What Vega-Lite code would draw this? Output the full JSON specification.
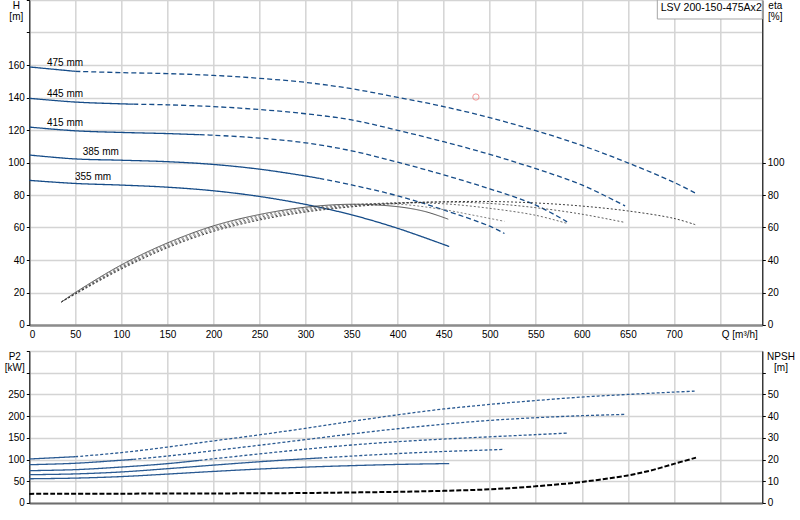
{
  "$schema": "https://vega.github.io/schema/vega-lite/v6.json",
  "autosize": {"type": "none"},
  "padding": {"left": 29.3, "top": 0, "right": 771, "bottom": 520},
  "background": "white",
  "config": {
    "font": "Liberation Sans",
    "view": {"stroke": "#9a9a9a", "strokeWidth": 1},
    "axis": {
      "labelFont": "Liberation Sans", "labelFontSize": 10, "labelColor": "#000",
      "titleFont": "Liberation Sans", "titleFontSize": 10, "titleFontWeight": "normal", "titleColor": "#000",
      "gridColor": "#d4d4d4", "gridWidth": 1.5, "tickColor": "#000", "tickSize": 3,
      "domainColor": "#000", "labelPadding": 2, "titleLineHeight": 11
    }
  },
  "datasets": {
    "head": [
      {"d": "475 mm", "r": "in", "q": 0, "h": 158.8}, {"d": "475 mm", "r": "in", "q": 50, "h": 156.1},
      {"d": "475 mm", "r": "out", "q": 50, "h": 156.1}, {"d": "475 mm", "r": "out", "q": 100, "h": 155.3},
      {"d": "475 mm", "r": "out", "q": 150, "h": 154.7}, {"d": "475 mm", "r": "out", "q": 200, "h": 153.6},
      {"d": "475 mm", "r": "out", "q": 250, "h": 151.8}, {"d": "475 mm", "r": "out", "q": 300, "h": 149.3},
      {"d": "475 mm", "r": "out", "q": 350, "h": 145.4}, {"d": "475 mm", "r": "out", "q": 400, "h": 140.1},
      {"d": "475 mm", "r": "out", "q": 450, "h": 134.4}, {"d": "475 mm", "r": "out", "q": 500, "h": 127.6},
      {"d": "475 mm", "r": "out", "q": 550, "h": 119.6}, {"d": "475 mm", "r": "out", "q": 600, "h": 110.5},
      {"d": "475 mm", "r": "out", "q": 650, "h": 99.8}, {"d": "475 mm", "r": "out", "q": 700, "h": 87.8},
      {"d": "475 mm", "r": "out", "q": 724, "h": 81},
      {"d": "445 mm", "r": "in", "q": 0, "h": 139.5}, {"d": "445 mm", "r": "in", "q": 50, "h": 137.2},
      {"d": "445 mm", "r": "in", "q": 100, "h": 136.1}, {"d": "445 mm", "r": "in", "q": 113, "h": 135.9},
      {"d": "445 mm", "r": "out", "q": 113, "h": 135.9}, {"d": "445 mm", "r": "out", "q": 150, "h": 135.5},
      {"d": "445 mm", "r": "out", "q": 200, "h": 134.4}, {"d": "445 mm", "r": "out", "q": 250, "h": 132.6},
      {"d": "445 mm", "r": "out", "q": 300, "h": 130}, {"d": "445 mm", "r": "out", "q": 350, "h": 126.2},
      {"d": "445 mm", "r": "out", "q": 400, "h": 119.8}, {"d": "445 mm", "r": "out", "q": 450, "h": 112.8},
      {"d": "445 mm", "r": "out", "q": 500, "h": 105}, {"d": "445 mm", "r": "out", "q": 550, "h": 96.2},
      {"d": "445 mm", "r": "out", "q": 600, "h": 86.2}, {"d": "445 mm", "r": "out", "q": 647, "h": 73.3},
      {"d": "415 mm", "r": "in", "q": 0, "h": 121.8}, {"d": "415 mm", "r": "in", "q": 50, "h": 119.5},
      {"d": "415 mm", "r": "in", "q": 100, "h": 118.5}, {"d": "415 mm", "r": "in", "q": 150, "h": 117.8},
      {"d": "415 mm", "r": "in", "q": 185, "h": 117.1},
      {"d": "415 mm", "r": "out", "q": 185, "h": 117.1}, {"d": "415 mm", "r": "out", "q": 200, "h": 116.8},
      {"d": "415 mm", "r": "out", "q": 250, "h": 115}, {"d": "415 mm", "r": "out", "q": 300, "h": 112.1},
      {"d": "415 mm", "r": "out", "q": 350, "h": 107.2}, {"d": "415 mm", "r": "out", "q": 400, "h": 100.2},
      {"d": "415 mm", "r": "out", "q": 450, "h": 92.4}, {"d": "415 mm", "r": "out", "q": 500, "h": 83.8},
      {"d": "415 mm", "r": "out", "q": 550, "h": 73.8}, {"d": "415 mm", "r": "out", "q": 584, "h": 63.5},
      {"d": "385 mm", "r": "in", "q": 0, "h": 104.6}, {"d": "385 mm", "r": "in", "q": 50, "h": 102.2},
      {"d": "385 mm", "r": "in", "q": 100, "h": 101.4}, {"d": "385 mm", "r": "in", "q": 150, "h": 100.5},
      {"d": "385 mm", "r": "in", "q": 200, "h": 98.8}, {"d": "385 mm", "r": "in", "q": 250, "h": 95.9},
      {"d": "385 mm", "r": "in", "q": 300, "h": 91.7}, {"d": "385 mm", "r": "in", "q": 315, "h": 90.2},
      {"d": "385 mm", "r": "out", "q": 315, "h": 90.2}, {"d": "385 mm", "r": "out", "q": 350, "h": 86.2},
      {"d": "385 mm", "r": "out", "q": 400, "h": 79.5}, {"d": "385 mm", "r": "out", "q": 450, "h": 70.8},
      {"d": "385 mm", "r": "out", "q": 500, "h": 60.8}, {"d": "385 mm", "r": "out", "q": 516, "h": 56.3},
      {"d": "355 mm", "r": "in", "q": 0, "h": 89}, {"d": "355 mm", "r": "in", "q": 50, "h": 87.1},
      {"d": "355 mm", "r": "in", "q": 100, "h": 86.1}, {"d": "355 mm", "r": "in", "q": 150, "h": 84.8},
      {"d": "355 mm", "r": "in", "q": 200, "h": 82.6}, {"d": "355 mm", "r": "in", "q": 250, "h": 79.1},
      {"d": "355 mm", "r": "in", "q": 300, "h": 74.2}, {"d": "355 mm", "r": "in", "q": 350, "h": 67.8},
      {"d": "355 mm", "r": "in", "q": 400, "h": 59.5}, {"d": "355 mm", "r": "in", "q": 456, "h": 48.3}
    ],
    "eta": [
      {"d": "355 mm", "q": 35, "e": 14.2}, {"d": "355 mm", "q": 50, "e": 20}, {"d": "355 mm", "q": 100, "e": 37},
      {"d": "355 mm", "q": 150, "e": 50.5}, {"d": "355 mm", "q": 200, "e": 61}, {"d": "355 mm", "q": 250, "e": 68},
      {"d": "355 mm", "q": 300, "e": 72.5}, {"d": "355 mm", "q": 350, "e": 74.3}, {"d": "355 mm", "q": 400, "e": 72.8},
      {"d": "355 mm", "q": 430, "e": 69.8}, {"d": "355 mm", "q": 455, "e": 65.1},
      {"d": "385 mm", "q": 35, "e": 14.2}, {"d": "385 mm", "q": 50, "e": 19.8}, {"d": "385 mm", "q": 100, "e": 36.3},
      {"d": "385 mm", "q": 150, "e": 49.8}, {"d": "385 mm", "q": 200, "e": 60.2}, {"d": "385 mm", "q": 250, "e": 67.2},
      {"d": "385 mm", "q": 300, "e": 71.8}, {"d": "385 mm", "q": 350, "e": 74.2}, {"d": "385 mm", "q": 400, "e": 74.4},
      {"d": "385 mm", "q": 450, "e": 71}, {"d": "385 mm", "q": 480, "e": 67.8}, {"d": "385 mm", "q": 516, "e": 63.8},
      {"d": "415 mm", "q": 35, "e": 14.2}, {"d": "415 mm", "q": 50, "e": 19.5}, {"d": "415 mm", "q": 100, "e": 35.6},
      {"d": "415 mm", "q": 150, "e": 49}, {"d": "415 mm", "q": 200, "e": 59.3}, {"d": "415 mm", "q": 250, "e": 66.3},
      {"d": "415 mm", "q": 300, "e": 71}, {"d": "415 mm", "q": 350, "e": 73.8}, {"d": "415 mm", "q": 400, "e": 75.2},
      {"d": "415 mm", "q": 450, "e": 74.6}, {"d": "415 mm", "q": 500, "e": 71.8}, {"d": "415 mm", "q": 550, "e": 67.5},
      {"d": "415 mm", "q": 584, "e": 62.5},
      {"d": "445 mm", "q": 35, "e": 14.2}, {"d": "445 mm", "q": 50, "e": 19.3}, {"d": "445 mm", "q": 100, "e": 35},
      {"d": "445 mm", "q": 150, "e": 48.2}, {"d": "445 mm", "q": 200, "e": 58.4}, {"d": "445 mm", "q": 250, "e": 65.4},
      {"d": "445 mm", "q": 300, "e": 70.2}, {"d": "445 mm", "q": 350, "e": 73.2}, {"d": "445 mm", "q": 400, "e": 75.1},
      {"d": "445 mm", "q": 450, "e": 75.7}, {"d": "445 mm", "q": 500, "e": 74.8}, {"d": "445 mm", "q": 550, "e": 72.2},
      {"d": "445 mm", "q": 600, "e": 68.2}, {"d": "445 mm", "q": 647, "e": 63.1},
      {"d": "475 mm", "q": 35, "e": 14.2}, {"d": "475 mm", "q": 50, "e": 19}, {"d": "475 mm", "q": 100, "e": 34.4},
      {"d": "475 mm", "q": 150, "e": 47.5}, {"d": "475 mm", "q": 200, "e": 57.6}, {"d": "475 mm", "q": 250, "e": 64.6},
      {"d": "475 mm", "q": 300, "e": 69.5}, {"d": "475 mm", "q": 350, "e": 72.7}, {"d": "475 mm", "q": 400, "e": 74.8},
      {"d": "475 mm", "q": 450, "e": 75.8}, {"d": "475 mm", "q": 500, "e": 76}, {"d": "475 mm", "q": 550, "e": 75.1},
      {"d": "475 mm", "q": 600, "e": 73.2}, {"d": "475 mm", "q": 650, "e": 70.2}, {"d": "475 mm", "q": 700, "e": 65.6},
      {"d": "475 mm", "q": 724, "e": 61.6}
    ],
    "power": [
      {"d": "475 mm", "r": "in", "q": 0, "p": 101.3}, {"d": "475 mm", "r": "in", "q": 50, "p": 106.6},
      {"d": "475 mm", "r": "out", "q": 50, "p": 106.6}, {"d": "475 mm", "r": "out", "q": 100, "p": 116},
      {"d": "475 mm", "r": "out", "q": 150, "p": 128.8}, {"d": "475 mm", "r": "out", "q": 200, "p": 143},
      {"d": "475 mm", "r": "out", "q": 250, "p": 157}, {"d": "475 mm", "r": "out", "q": 300, "p": 172},
      {"d": "475 mm", "r": "out", "q": 350, "p": 188}, {"d": "475 mm", "r": "out", "q": 400, "p": 203},
      {"d": "475 mm", "r": "out", "q": 450, "p": 216.5}, {"d": "475 mm", "r": "out", "q": 500, "p": 227},
      {"d": "475 mm", "r": "out", "q": 550, "p": 236}, {"d": "475 mm", "r": "out", "q": 600, "p": 244},
      {"d": "475 mm", "r": "out", "q": 650, "p": 250}, {"d": "475 mm", "r": "out", "q": 700, "p": 255.4},
      {"d": "475 mm", "r": "out", "q": 724, "p": 257.7},
      {"d": "445 mm", "r": "in", "q": 0, "p": 88.2}, {"d": "445 mm", "r": "in", "q": 50, "p": 91.5},
      {"d": "445 mm", "r": "in", "q": 100, "p": 98.5}, {"d": "445 mm", "r": "in", "q": 113, "p": 100.5},
      {"d": "445 mm", "r": "out", "q": 113, "p": 100.5}, {"d": "445 mm", "r": "out", "q": 150, "p": 108},
      {"d": "445 mm", "r": "out", "q": 200, "p": 120.5}, {"d": "445 mm", "r": "out", "q": 250, "p": 133},
      {"d": "445 mm", "r": "out", "q": 300, "p": 146}, {"d": "445 mm", "r": "out", "q": 350, "p": 159},
      {"d": "445 mm", "r": "out", "q": 400, "p": 171}, {"d": "445 mm", "r": "out", "q": 450, "p": 181.5},
      {"d": "445 mm", "r": "out", "q": 500, "p": 190.2}, {"d": "445 mm", "r": "out", "q": 550, "p": 196.4},
      {"d": "445 mm", "r": "out", "q": 600, "p": 201}, {"d": "445 mm", "r": "out", "q": 647, "p": 204},
      {"d": "415 mm", "r": "in", "q": 0, "p": 74.5}, {"d": "415 mm", "r": "in", "q": 50, "p": 76.8},
      {"d": "415 mm", "r": "in", "q": 100, "p": 82.8}, {"d": "415 mm", "r": "in", "q": 150, "p": 90.6},
      {"d": "415 mm", "r": "in", "q": 185, "p": 98.2},
      {"d": "415 mm", "r": "out", "q": 185, "p": 98.2}, {"d": "415 mm", "r": "out", "q": 200, "p": 101.8},
      {"d": "415 mm", "r": "out", "q": 250, "p": 113}, {"d": "415 mm", "r": "out", "q": 300, "p": 124},
      {"d": "415 mm", "r": "out", "q": 350, "p": 133.5}, {"d": "415 mm", "r": "out", "q": 400, "p": 141.2},
      {"d": "415 mm", "r": "out", "q": 450, "p": 147.2}, {"d": "415 mm", "r": "out", "q": 500, "p": 152.4},
      {"d": "415 mm", "r": "out", "q": 550, "p": 157.4}, {"d": "415 mm", "r": "out", "q": 584, "p": 161},
      {"d": "385 mm", "r": "in", "q": 0, "p": 65.2}, {"d": "385 mm", "r": "in", "q": 50, "p": 67},
      {"d": "385 mm", "r": "in", "q": 100, "p": 71.5}, {"d": "385 mm", "r": "in", "q": 150, "p": 79},
      {"d": "385 mm", "r": "in", "q": 200, "p": 87.2}, {"d": "385 mm", "r": "in", "q": 250, "p": 95},
      {"d": "385 mm", "r": "in", "q": 300, "p": 101.8}, {"d": "385 mm", "r": "in", "q": 315, "p": 103.6},
      {"d": "385 mm", "r": "out", "q": 315, "p": 103.6}, {"d": "385 mm", "r": "out", "q": 350, "p": 108},
      {"d": "385 mm", "r": "out", "q": 400, "p": 113.8}, {"d": "385 mm", "r": "out", "q": 450, "p": 118.6},
      {"d": "385 mm", "r": "out", "q": 500, "p": 122.2}, {"d": "385 mm", "r": "out", "q": 516, "p": 123.5},
      {"d": "355 mm", "r": "in", "q": 0, "p": 55.8}, {"d": "355 mm", "r": "in", "q": 50, "p": 57.3},
      {"d": "355 mm", "r": "in", "q": 100, "p": 60.8}, {"d": "355 mm", "r": "in", "q": 150, "p": 66.6},
      {"d": "355 mm", "r": "in", "q": 200, "p": 72.7}, {"d": "355 mm", "r": "in", "q": 250, "p": 78.2},
      {"d": "355 mm", "r": "in", "q": 300, "p": 82.6}, {"d": "355 mm", "r": "in", "q": 350, "p": 86},
      {"d": "355 mm", "r": "in", "q": 400, "p": 88.8}, {"d": "355 mm", "r": "in", "q": 456, "p": 90.8}
    ],
    "npsh": [
      {"q": 0, "n": 4.2}, {"q": 100, "n": 4.3}, {"q": 200, "n": 4.4}, {"q": 300, "n": 4.6},
      {"q": 350, "n": 4.85}, {"q": 400, "n": 5.15}, {"q": 450, "n": 5.6}, {"q": 500, "n": 6.3},
      {"q": 550, "n": 7.7}, {"q": 600, "n": 9.7}, {"q": 650, "n": 12.7}, {"q": 675, "n": 15},
      {"q": 700, "n": 18}, {"q": 724, "n": 20.9}
    ],
    "labels": [
      {"t": "475 mm", "q": 19.2, "h": 159.6}, {"t": "445 mm", "q": 19.2, "h": 140.6},
      {"t": "415 mm", "q": 19.2, "h": 122.5}, {"t": "385 mm", "q": 58, "h": 104.6},
      {"t": "355 mm", "q": 49.6, "h": 89.2}
    ],
    "duty": [{"q": 485, "h": 140.3}],
    "box": [{"t": "LSV 200-150-475Ax2", "q1": 682, "q2": 796, "h1": 188.3, "h2": 200, "qt": 685.6, "ht": 193.4}]
  },
  "spacing": 26,
  "bounds": "flush",
  "vconcat": [
    {
      "width": 733,
      "height": 325,
      "resolve": {"scale": {"y": "independent", "strokeDash": "independent"}},
      "layer": [
        {
          "data": {"name": "head"},
          "mark": {"type": "line", "interpolate": "catmull-rom", "strokeWidth": 1.3, "color": "#164c88"},
          "encoding": {
            "x": {"field": "q", "type": "quantitative", "scale": {"domain": [0, 796], "nice": false},
              "axis": {"values": [0, 50, 100, 150, 200, 250, 300, 350, 400, 450, 500, 550, 600, 650, 700, 750],
                "labelExpr": "datum.value == 750 ? '' : datum.label", "ticks": false, "tickSize": 0, "labelPadding": 5,
                "domainColor": "#8c8c8c", "domainWidth": 2.5, "title": "Q [m³/h]", "titleX": 692, "titleY": 12.6,
                "titleAlign": "left", "titleBaseline": "alphabetic"}},
            "y": {"field": "h", "type": "quantitative", "scale": {"domain": [0, 200], "nice": false},
              "axis": {"orient": "left", "values": [0, 20, 40, 60, 80, 100, 120, 140, 160, 180, 200],
                "labelExpr": "datum.value > 160 ? '' : datum.label", "title": ["H", "[m]"], "titleAngle": 0,
                "titleX": -13.5, "titleY": 8.5, "titleAlign": "center", "titleBaseline": "alphabetic"}},
            "detail": {"field": "d"},
            "strokeDash": {"field": "r", "type": "nominal", "scale": {"domain": ["in", "out"], "range": [[1, 0], [5, 3]]}, "legend": null}
          }
        },
        {
          "data": {"name": "eta"},
          "mark": {"type": "line", "interpolate": "catmull-rom", "strokeWidth": 0.9},
          "encoding": {
            "x": {"field": "q", "type": "quantitative"},
            "y": {"field": "e", "type": "quantitative", "scale": {"domain": [0, 200], "nice": false},
              "axis": {"orient": "right", "values": [0, 20, 40, 60, 80, 100], "grid": false,
                "title": ["eta", "[%]"], "titleAngle": 0, "titleX": 12.5, "titleY": 8.5,
                "titleAlign": "center", "titleBaseline": "alphabetic"}},
            "color": {"field": "d", "type": "nominal",
              "scale": {"domain": ["355 mm", "385 mm", "415 mm", "445 mm", "475 mm"], "range": ["#3c3c3c", "#707070", "#5a5a5a", "#4a4a4a", "#2a2a2a"]},
              "legend": null},
            "strokeDash": {"field": "d", "type": "nominal",
              "scale": {"domain": ["355 mm", "385 mm", "415 mm", "445 mm", "475 mm"], "range": [[1, 0], [2, 2], [2, 2], [2, 2], [2, 2]]},
              "legend": null}
          }
        },
        {
          "data": {"name": "labels"},
          "mark": {"type": "text", "align": "left", "baseline": "alphabetic", "fontSize": 10, "color": "#000"},
          "encoding": {
            "x": {"field": "q", "type": "quantitative"},
            "y": {"field": "h", "type": "quantitative", "scale": {"domain": [0, 200], "nice": false}, "axis": null},
            "text": {"field": "t"}
          }
        },
        {
          "data": {"name": "duty"},
          "mark": {"type": "point", "shape": "circle", "filled": false, "size": 40, "stroke": "#f07070", "strokeWidth": 1},
          "encoding": {
            "x": {"field": "q", "type": "quantitative"},
            "y": {"field": "h", "type": "quantitative", "scale": {"domain": [0, 200], "nice": false}, "axis": null}
          }
        },
        {
          "data": {"name": "box"},
          "mark": {"type": "rect", "fill": "white", "stroke": "#a6a6a6", "strokeWidth": 1},
          "encoding": {
            "x": {"field": "q1", "type": "quantitative"},
            "x2": {"field": "q2"},
            "y": {"field": "h1", "type": "quantitative", "scale": {"domain": [0, 200], "nice": false}, "axis": null},
            "y2": {"field": "h2"}
          }
        },
        {
          "data": {"name": "box"},
          "mark": {"type": "text", "align": "left", "baseline": "alphabetic", "fontSize": 10.6, "color": "#000"},
          "encoding": {
            "x": {"field": "qt", "type": "quantitative"},
            "y": {"field": "ht", "type": "quantitative", "scale": {"domain": [0, 200], "nice": false}, "axis": null},
            "text": {"field": "t"}
          }
        }
      ]
    },
    {
      "width": 733,
      "height": 152,
      "resolve": {"scale": {"y": "independent", "strokeDash": "independent"}},
      "layer": [
        {
          "data": {"name": "power"},
          "mark": {"type": "line", "interpolate": "catmull-rom", "strokeWidth": 1.3, "color": "#2a5a92"},
          "encoding": {
            "x": {"field": "q", "type": "quantitative", "scale": {"domain": [0, 796], "nice": false},
              "axis": {"values": [0, 50, 100, 150, 200, 250, 300, 350, 400, 450, 500, 550, 600, 650, 700, 750],
                "labels": false, "ticks": false, "tickSize": 0, "domainColor": "#6e6e6e", "domainWidth": 2, "title": null}},
            "y": {"field": "p", "type": "quantitative", "scale": {"domain": [0, 350], "nice": false},
              "axis": {"orient": "left", "values": [0, 50, 100, 150, 200, 250, 300, 350],
                "labelExpr": "datum.value > 250 ? '' : datum.label", "title": ["P2", "[kW]"], "titleAngle": 0,
                "titleX": -15, "titleY": 8.8, "titleAlign": "center", "titleBaseline": "alphabetic"}},
            "detail": {"field": "d"},
            "strokeDash": {"field": "r", "type": "nominal", "scale": {"domain": ["in", "out"], "range": [[1, 0], [3, 2]]}, "legend": null}
          }
        },
        {
          "data": {"name": "npsh"},
          "mark": {"type": "line", "interpolate": "catmull-rom", "strokeWidth": 2, "color": "#000", "strokeDash": [5, 2]},
          "encoding": {
            "x": {"field": "q", "type": "quantitative"},
            "y": {"field": "n", "type": "quantitative", "scale": {"domain": [0, 70], "nice": false},
              "axis": {"orient": "right", "values": [0, 10, 20, 30, 40, 50, 60], "grid": false,
                "labelExpr": "datum.value > 50 ? '' : datum.label", "title": ["NPSH", "[m]"], "titleAngle": 0,
                "titleX": 18.2, "titleY": 8.8, "titleAlign": "center", "titleBaseline": "alphabetic"}}
          }
        }
      ]
    }
  ]
}
